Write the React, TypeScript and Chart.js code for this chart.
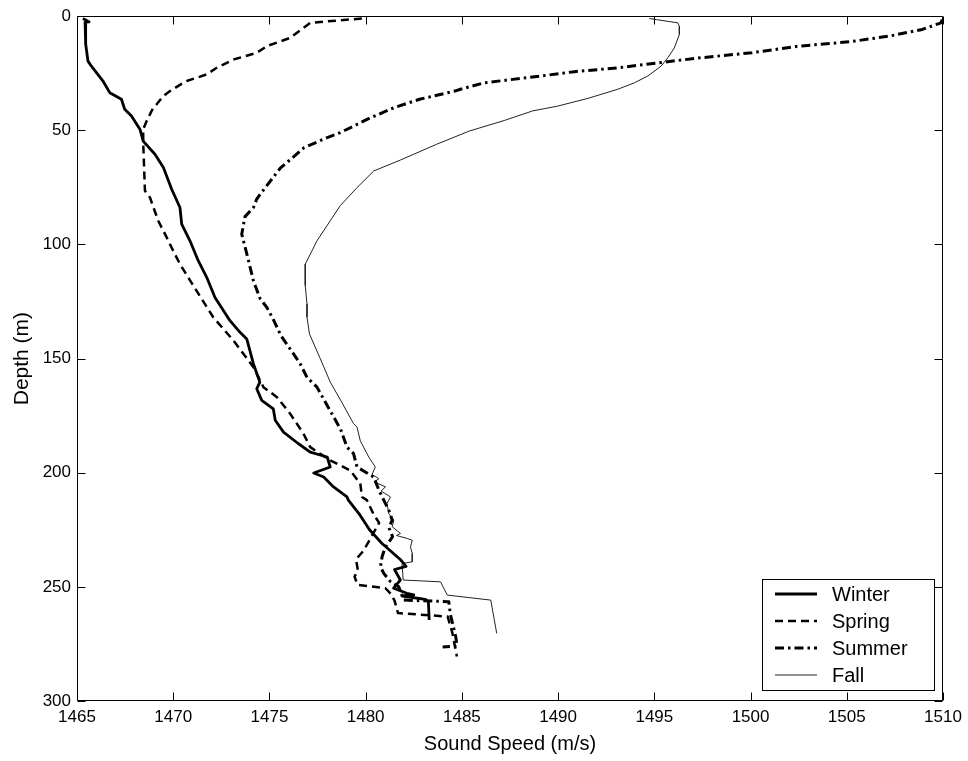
import React, { useEffect, useRef } from "react";
import { Chart, registerables } from "chart.js";

Chart.register(...registerables);

const xTicks = [1465, 1470, 1475, 1480, 1485, 1490, 1495, 1500, 1505, 1510];
const yTicks = [0, 50, 100, 150, 200, 250, 300];

const seriesNames = ["Winter", "Spring", "Summer", "Fall"];

const winterSpeed = [1465.31, 1465.63, 1465.42, 1465.45, 1465.45, 1465.57, 1465.75, 1466.35, 1466.7, 1467.31, 1467.48, 1467.83, 1468.27, 1468.44, 1469.05, 1469.49, 1469.92, 1470.35, 1470.44, 1470.87, 1471.3, 1471.74, 1472.17, 1472.95, 1473.47, 1473.82, 1474.17, 1474.5, 1474.34, 1474.6, 1475.2, 1475.3, 1475.73, 1476.51, 1477.12, 1478.0, 1478.16, 1477.3, 1477.82, 1478.33, 1479.03, 1479.1, 1479.7, 1480.2, 1480.85, 1481.8, 1482.1, 1481.5, 1481.8, 1481.45, 1482.14, 1482.5, 1481.9, 1483.1, 1483.26, 1483.3];
const winterDepth = [1.0, 2.5, 2.6, 6.0, 12.2, 19.7, 21.9, 28.4, 33.5, 36.4, 40.8, 43.7, 49.5, 54.7, 60.5, 66.3, 75.8, 83.8, 91.1, 98.4, 107.1, 114.4, 123.2, 133.4, 138.5, 141.4, 152.3, 160.3, 163.2, 168.3, 172.0, 177.0, 182.2, 187.3, 191.0, 193.1, 197.5, 200.1, 201.9, 206.2, 210.6, 212.0, 218.5, 225.0, 231.0, 238.0, 241.0, 242.4, 247.0, 250.6, 252.8, 253.5, 254.0, 255.5, 256.5, 264.5];

const springSpeed = [1479.8, 1477.13, 1476.6, 1476.08, 1474.9, 1474.34, 1473.13, 1472.26, 1471.74, 1470.7, 1470.52, 1469.83, 1469.48, 1469.14, 1468.96, 1468.62, 1468.44, 1468.44, 1468.53, 1468.79, 1469.22, 1469.66, 1470.0, 1470.35, 1471.04, 1472.08, 1473.13, 1474.17, 1474.69, 1475.39, 1476.08, 1476.77, 1477.12, 1478.16, 1479.2, 1479.72, 1479.81, 1480.06, 1480.4, 1480.7, 1480.3, 1479.9, 1479.5, 1479.6, 1479.42, 1479.58, 1481.03, 1481.3, 1481.5, 1481.68, 1484.26, 1484.5, 1484.74];
const springDepth = [1.0, 2.9, 6.2, 9.5, 13.0, 16.0, 19.0, 22.6, 25.5, 28.4, 29.2, 32.8, 35.0, 38.6, 40.1, 45.9, 49.5, 55.4, 76.5, 79.4, 89.6, 96.9, 102.8, 108.6, 118.0, 131.9, 142.1, 153.8, 162.5, 166.9, 174.2, 182.9, 188.8, 194.6, 199.0, 204.8, 210.6, 212.0, 218.0, 222.0, 228.0, 234.0, 238.0, 243.0, 245.5, 249.1, 250.6, 253.0, 256.0, 261.5, 263.0, 270.0, 280.5];

const summerSpeed = [1509.96, 1509.9, 1508.92, 1507.22, 1505.16, 1502.52, 1500.07, 1497.43, 1495.52, 1493.1, 1492.23, 1490.84, 1489.1, 1486.15, 1484.93, 1484.63, 1482.8, 1481.46, 1480.07, 1479.72, 1478.68, 1478.0, 1476.8, 1475.56, 1474.52, 1474.34, 1474.17, 1473.73, 1473.56, 1473.82, 1474.17, 1474.52, 1474.86, 1475.21, 1475.6, 1476.25, 1476.6, 1476.95, 1477.47, 1478.0, 1478.7, 1479.03, 1479.37, 1479.55, 1480.42, 1480.69, 1480.94, 1481.2, 1481.38, 1481.2, 1481.4, 1481.0, 1480.85, 1480.77, 1480.94, 1481.3, 1481.72, 1481.98, 1484.32, 1484.4, 1484.68, 1484.75, 1484.0];
const summerDepth = [1.5, 2.9, 5.8, 8.7, 11.2, 13.1, 16.0, 18.2, 20.1, 22.6, 23.3, 24.3, 26.2, 29.2, 32.0, 32.8, 36.4, 40.1, 45.2, 46.7, 51.0, 53.2, 57.6, 66.6, 78.0, 80.1, 83.8, 87.8, 95.5, 104.0, 116.0, 123.8, 127.5, 133.0, 140.0, 147.9, 152.3, 158.2, 162.5, 170.5, 181.0, 188.8, 191.6, 197.5, 201.9, 207.7, 212.0, 216.4, 220.8, 224.0, 228.0, 233.0, 236.9, 241.2, 244.1, 247.8, 250.0, 255.8, 256.5, 262.0, 271.8, 276.0, 276.3];

const fallSpeed = [1494.74, 1495.1, 1496.22, 1496.3, 1496.3, 1496.04, 1495.7, 1495.35, 1494.66, 1493.96, 1493.1, 1491.55, 1489.97, 1488.67, 1487.2, 1485.39, 1483.69, 1481.81, 1480.42, 1479.55, 1478.68, 1478.16, 1477.47, 1477.21, 1476.86, 1476.86, 1476.95, 1476.95, 1477.08, 1477.64, 1478.16, 1478.75, 1479.37, 1479.55, 1479.72, 1480.16, 1480.5, 1480.33, 1480.69, 1480.45, 1481.03, 1480.8, 1481.29, 1481.11, 1481.2, 1481.46, 1481.38, 1481.81, 1481.6, 1482.16, 1482.42, 1482.33, 1482.42, 1482.42, 1481.89, 1481.95, 1483.89, 1484.24, 1486.5, 1486.81];
const fallDepth = [1.0, 1.5, 2.9, 4.4, 8.0, 13.9, 18.2, 21.9, 26.2, 29.2, 32.0, 36.0, 39.4, 41.5, 45.7, 50.3, 56.1, 63.0, 67.8, 75.1, 83.0, 89.6, 98.4, 102.8, 108.6, 118.0, 126.0, 131.9, 139.2, 150.0, 160.3, 169.0, 178.5, 180.0, 186.0, 193.1, 197.5, 200.8, 202.6, 204.0, 206.2, 208.0, 210.6, 213.5, 217.9, 220.8, 223.7, 226.6, 227.5, 228.8, 229.6, 232.5, 235.4, 239.0, 239.8, 247.0, 247.8, 253.6, 255.8, 270.4];

const FONT = "'Liberation Sans', Arial, Helvetica, sans-serif";

const styles = [
  { color: "#000000", width: 2.8, dash: [] as number[] },
  { color: "#000000", width: 2.5, dash: [8, 5] },
  { color: "#000000", width: 3, dash: [9, 4, 2.5, 4] },
  { color: "#222222", width: 1, dash: [] as number[] },
];

export default function App() {
  const ref = useRef<HTMLCanvasElement | null>(null);

  useEffect(() => {
    if (!ref.current) return;
    const mk = (s: number[], d: number[]) => s.map((x, i) => ({ x, y: d[i] }));
    const all = [
      mk(winterSpeed, winterDepth),
      mk(springSpeed, springDepth),
      mk(summerSpeed, summerDepth),
      mk(fallSpeed, fallDepth),
    ];

    const framePlugin = {
      id: "frame",
      afterDraw(chart: any) {
        const ctx = chart.ctx as CanvasRenderingContext2D;
        const { left, right, top, bottom } = chart.chartArea;
        const xs = chart.scales.x;
        const ys = chart.scales.y;
        ctx.save();
        ctx.strokeStyle = "#000";
        ctx.lineWidth = 1;
        ctx.setLineDash([]);
        const L = Math.round(left) + 0.5;
        const R = Math.round(right) - 0.5;
        const T = Math.round(top) + 0.5;
        const B = Math.round(bottom) - 0.5;
        ctx.beginPath();
        ctx.rect(L, T, R - L, B - T);
        const tl = 8;
        xTicks.forEach((v) => {
          const px = Math.round(xs.getPixelForValue(v)) + 0.5;
          ctx.moveTo(px, B);
          ctx.lineTo(px, B - tl);
          ctx.moveTo(px, T);
          ctx.lineTo(px, T + tl);
        });
        yTicks.forEach((v) => {
          const py = Math.round(ys.getPixelForValue(v)) + 0.5;
          ctx.moveTo(L, py);
          ctx.lineTo(L + tl, py);
          ctx.moveTo(R, py);
          ctx.lineTo(R - tl, py);
        });
        ctx.stroke();

        // legend
        const bx = 762.5, by = 579.5, bw = 172, bh = 111;
        ctx.fillStyle = "#fff";
        ctx.fillRect(bx, by, bw, bh);
        ctx.strokeRect(bx, by, bw, bh);
        const rows = [594, 621, 648, 675];
        ctx.font = `20px ${FONT}`;
        ctx.textBaseline = "middle";
        ctx.textAlign = "left";
        seriesNames.forEach((name, i) => {
          const st = styles[i];
          ctx.beginPath();
          ctx.strokeStyle = st.color;
          ctx.lineWidth = st.width;
          ctx.setLineDash(st.dash);
          ctx.moveTo(775, rows[i]);
          ctx.lineTo(817, rows[i]);
          ctx.stroke();
          ctx.setLineDash([]);
          ctx.fillStyle = "#000";
          ctx.fillText(name, 832, rows[i] + 1);
        });
        ctx.restore();
      },
    };

    const chart = new Chart(ref.current, {
      type: "scatter",
      data: {
        datasets: all.map((data, i) => ({
          label: seriesNames[i],
          data,
          showLine: true,
          borderColor: styles[i].color,
          backgroundColor: styles[i].color,
          borderWidth: styles[i].width,
          borderDash: styles[i].dash,
          borderJoinStyle: "round" as const,
          pointRadius: 0,
          pointHoverRadius: 0,
          tension: 0,
          fill: false,
        })),
      },
      options: {
        responsive: false,
        animation: false,
        devicePixelRatio: 1,
        layout: { padding: { left: 0, right: 25, top: 15, bottom: 0 } },
        plugins: {
          legend: { display: false },
          tooltip: { enabled: false },
        },
        scales: {
          x: {
            type: "linear",
            min: 1465,
            max: 1510,
            afterBuildTicks: (s: any) => {
              s.ticks = xTicks.map((v) => ({ value: v }));
            },
            afterFit: (s: any) => {
              s.height = 60;
            },
            grid: { display: false, drawTicks: false },
            border: { display: false },
            ticks: {
              padding: 6,
              color: "#000",
              font: { family: FONT, size: 17 },
              maxRotation: 0,
              autoSkip: false,
              callback: (v: any) => String(v),
            },
            title: {
              display: true,
              text: "Sound Speed (m/s)",
              color: "#000",
              font: { family: FONT, size: 20 },
              padding: { top: 0, bottom: 5 },
            },
          },
          y: {
            type: "linear",
            reverse: true,
            min: 0,
            max: 300,
            afterBuildTicks: (s: any) => {
              s.ticks = yTicks.map((v) => ({ value: v }));
            },
            afterFit: (s: any) => {
              s.width = 77;
            },
            grid: { display: false, drawTicks: false },
            border: { display: false },
            ticks: {
              padding: 6,
              color: "#000",
              font: { family: FONT, size: 17 },
              autoSkip: false,
              callback: (v: any) => String(v),
            },
            title: {
              display: true,
              text: "Depth (m)",
              color: "#000",
              font: { family: FONT, size: 21 },
              padding: { top: 10, bottom: 0 },
            },
          },
        },
      },
      plugins: [framePlugin],
    });
    return () => chart.destroy();
  }, []);

  return (
    <div style={{ position: "fixed", left: 0, top: 0, width: 968, height: 761, background: "#fff" }}>
      <canvas ref={ref} width={968} height={761} style={{ display: "block" }} />
    </div>
  );
}
